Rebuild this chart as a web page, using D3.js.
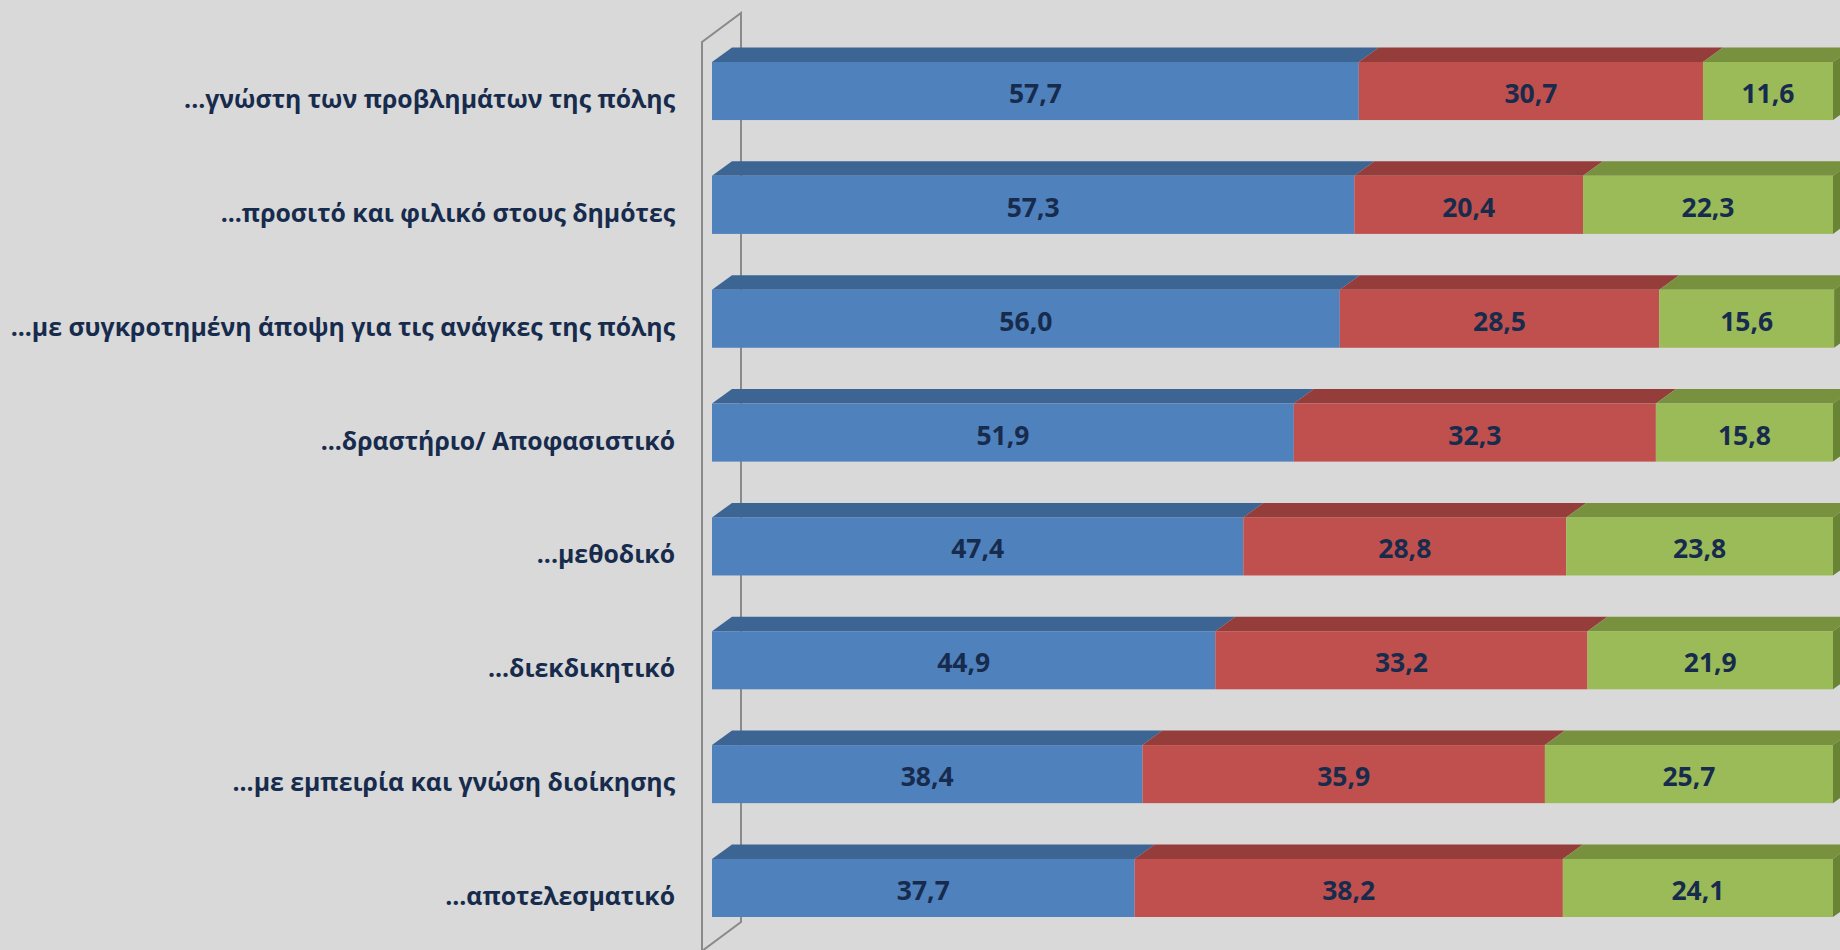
<!DOCTYPE html>
<html>
<head>
<meta charset="utf-8">
<script src="https://cdn.jsdelivr.net/npm/d3@7"></script>
<style>
html,body{margin:0;padding:0;background:#d9d9d9;}
svg{display:block;}
</style>
</head>
<body>
<svg id="chart" width="1840" height="950"></svg>
<script>
const categories = [
  "...γνώστη των προβλημάτων της πόλης",
  "...προσιτό και φιλικό στους δημότες",
  "...με συγκροτημένη άποψη για τις ανάγκες της πόλης",
  "...δραστήριο/ Αποφασιστικό",
  "...μεθοδικό",
  "...διεκδικητικό",
  "...με εμπειρία και γνώση διοίκησης",
  "...αποτελεσματικό"
];
const seriesA = [57.7, 57.3, 56.0, 51.9, 47.4, 44.9, 38.4, 37.7];
const seriesB = [30.7, 20.4, 28.5, 32.3, 28.8, 33.2, 35.9, 38.2];
const seriesC = [11.6, 22.3, 15.6, 15.8, 23.8, 21.9, 25.7, 24.1];
const seriesKeys = ["a", "b", "c"];

const frontColors = {a: "#4f81bd", b: "#c0504d", c: "#9bbb59"};
const topColors   = {a: "#3d6593", b: "#953d3b", c: "#77913f"};
const sideColors  = {a: "#355a84", b: "#843533", c: "#6a8436"};
const textColor = "#172b4d";

const rows = categories.map((c, i) => ({cat: c, a: seriesA[i], b: seriesB[i], c: seriesC[i]}));
const stacked = d3.stack().keys(seriesKeys)(rows);

const svg = d3.select("#chart");
svg.append("rect").attr("width", 1840).attr("height", 950).attr("fill", "#d9d9d9");

const x = d3.scaleLinear().domain([0, 100]).range([712, 1833]);
const y = d3.scaleBand().domain(categories).range([62, 917]).paddingInner(0.49).paddingOuter(0);
const dx = 20, dy = 14.5;

// 3D wall outline
const wx0 = x(0) - 10, wx1 = x(0) + 29;
const wall = svg.append("g").attr("fill", "none").attr("stroke", "#8a8a8a").attr("stroke-width", 2);
wall.append("path").attr("d", `M${wx0},952 L${wx0},42 L${wx1},13 L${wx1},922 L${wx0},951`);

// bars
const g = svg.append("g");
stacked.forEach((layer, li) => {
  const key = layer.key;
  const lg = g.append("g");
  lg.selectAll("path.top").data(layer).join("path")
    .attr("class", "top")
    .attr("fill", topColors[key])
    .attr("d", d => {
      const x0 = x(d[0]), x1 = x(d[1]), yt = y(d.data.cat);
      return `M${x0},${yt} L${x1},${yt} L${x1+dx},${yt-dy} L${x0+dx},${yt-dy} Z`;
    });
  lg.selectAll("rect.front").data(layer).join("rect")
    .attr("class", "front")
    .attr("fill", frontColors[key])
    .attr("x", d => x(d[0]))
    .attr("y", d => y(d.data.cat))
    .attr("width", d => x(d[1]) - x(d[0]))
    .attr("height", y.bandwidth());
  if (li === stacked.length - 1) {
    lg.selectAll("path.side").data(layer).join("path")
      .attr("class", "side")
      .attr("fill", sideColors[key])
      .attr("d", d => {
        const x1 = x(d[1]), yt = y(d.data.cat), yb = yt + y.bandwidth();
        return `M${x1},${yt} L${x1+dx},${yt-dy} L${x1+dx},${yb-dy} L${x1},${yb} Z`;
      });
  }
  lg.selectAll("text").data(layer).join("text")
    .attr("x", d => (x(d[0]) + x(d[1])) / 2)
    .attr("y", d => y(d.data.cat) + y.bandwidth() / 2 + 2)
    .attr("text-anchor", "middle")
    .attr("dominant-baseline", "central")
    .attr("font-family", "'Open Sans', sans-serif")
    .attr("font-weight", "bold")
    .attr("font-size", 26.5)
    .attr("fill", textColor)
    .text(d => (d[1] - d[0]).toFixed(1).replace(".", ","));
});

// category labels
svg.append("g").selectAll("text").data(categories).join("text")
  .attr("x", 675)
  .attr("y", d => y(d) + y.bandwidth() / 2 + 17)
  .attr("text-anchor", "end")
  .attr("font-family", "'Open Sans', sans-serif")
  .attr("font-weight", "bold")
  .attr("font-size", 24.8)
  .attr("fill", textColor)
  .text(d => d);
</script>
</body>
</html>
